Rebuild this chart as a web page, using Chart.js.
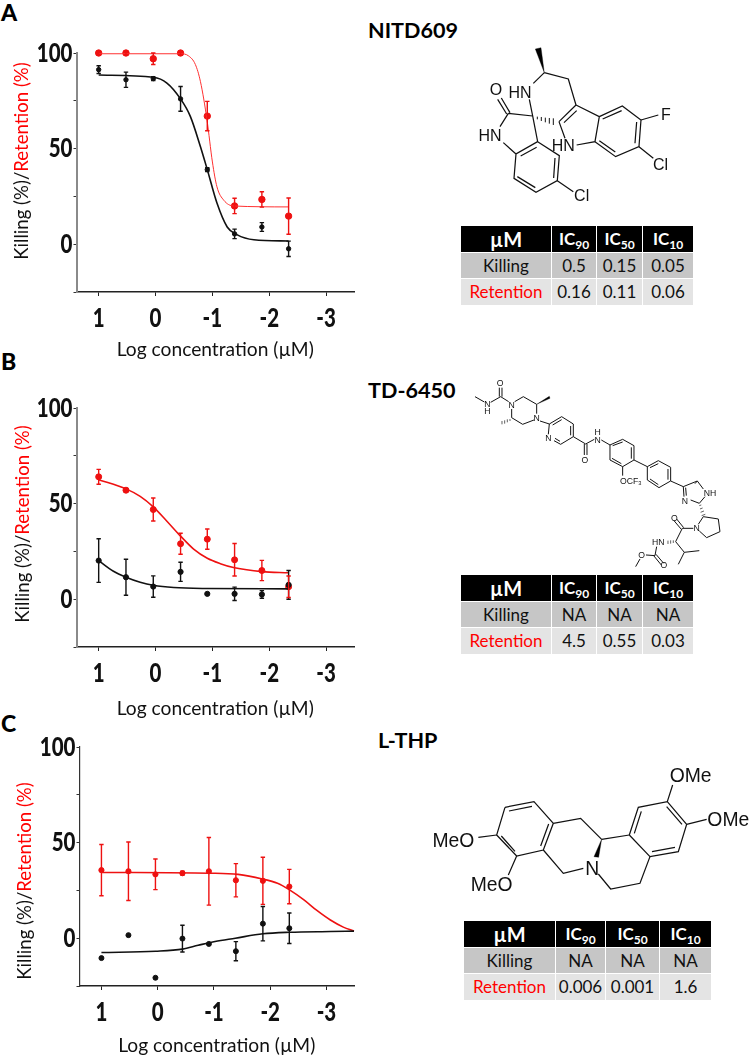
<!DOCTYPE html>
<html>
<head>
<meta charset="utf-8">
<title>NITD609, TD-6450, L-THP</title>
<script src="https://cdn.jsdelivr.net/npm/chart.js@4"></script>
<style>
    html, body { margin: 0; padding: 0; background: #fff; }
    body { position: relative; width: 750px; height: 1055px; overflow: hidden; font-family: Lato, sans-serif; color: #111; }
    canvas { position: absolute; left: 0; }
    .panel { position: absolute; left: 1px; font-weight: 900; font-size: 23px; line-height: 24px; color: #000; }
    .drug { position: absolute; font-weight: 700; font-size: 21.6px; line-height: 22px; color: #000; }
    .ytitle { position: absolute; width: 240px; height: 22px; line-height: 22px; text-align: center; font-size: 18.6px; white-space: nowrap; transform: rotate(-90deg); transform-origin: center center; }
    .ytitle span { color: #f00; }
    table { position: absolute; border-collapse: collapse; table-layout: fixed; font-size: 17px; text-align: center; }
    td, th { padding: 0; border: 1px solid #fff; height: 26.7px; line-height: 20px; overflow: hidden; box-sizing: border-box; }
    th { background: #000; color: #fff; font-weight: 700; }
    th:first-child { font-size: 20px; }
    th sub { font-size: 12px; line-height: 0; }
    tr.killing td { background: #c6c6c6; }
    tr.retention td { background: #e4e4e4; }
    tr.retention td:first-child { color: #f00; }
    svg { position: absolute; left: 0; top: 0; }
    svg path { fill: none; stroke: #111; stroke-width: 3.7; }
    svg path.solid { fill: #000; stroke: #000; stroke-width: 1; }
    svg text { font-family: "Liberation Sans", sans-serif; fill: #111; text-anchor: middle; dominant-baseline: central; }
</style>
</head>
<body>
<div class="panel" style="top:0px">A</div>
<div class="panel" style="top:349px">B</div>
<div class="panel" style="top:711px">C</div>
<div class="drug" style="left:368px;top:19px">NITD609</div>
<div class="drug" style="left:368px;top:379px">TD-6450</div>
<div class="drug" style="left:378px;top:729px">L-THP</div>

<canvas id="chartA"></canvas>
<canvas id="chartB"></canvas>
<canvas id="chartC"></canvas>

<div class="ytitle" style="left:-99px;top:150px">Killing (%)/<span>Retention (%)</span></div>
<div class="ytitle" style="left:-98px;top:513px">Killing (%)/<span>Retention (%)</span></div>
<div class="ytitle" style="left:-96px;top:870px">Killing (%)/<span>Retention (%)</span></div>

<table id="tableA" style="left:460px;top:225px;width:233px"></table>
<table id="tableB" style="left:460px;top:574px;width:233px"></table>
<table id="tableC" style="left:463px;top:920px;width:248px"></table>

<svg width="750" height="1055" viewBox="0 0 750 1055">
    <!-- NITD609 -->
    <g transform="translate(440,10) scale(0.3333)">
        <path class="solid" d="M313 188 L286 117 L303 113 Z"/>
        <path d="M313 188 L280 220 M313 188 L385 207 L408 285 M268 268 L278 318 M278 318 L205 310 M200 312 L173 268 M210 308 L184 264 M205 310 L180 350 M190 398 L228 432 M278 318 L293 395 L228 432 L222 505 L288 547 L352 512 L358 437 L293 395"/>
        <path d="M290 412 L242 438 M232 500 L286 533 M341 504 L345 444 M352 512 L400 545"/>
        <path d="M408 285 L357 335 M410 302 L372 338 M357 335 L375 385 M410 405 L465 395 L478 320 L408 285 M478 320 L547 288 L603 330 L597 410 L527 440 L465 395"/>
        <path d="M488 327 L545 302 M590 336 L585 400 M526 426 L478 392 M603 330 L655 315 M597 410 L640 445"/>
        <path d="M292 320 L292 328 M304 321 L304 333 M316 323 L316 337 M328 324 L328 341 M340 325 L340 345" style="stroke-width:3"/>
        <g font-size="48">
            <text x="168" y="240">O</text><text x="240" y="247">HN</text><text x="150" y="378">HN</text><text x="370" y="408">HN</text>
            <text x="678" y="314">F</text><text x="662" y="463">Cl</text><text x="425" y="557">Cl</text>
        </g>
    </g>
    <!-- TD-6450 -->
    <g transform="translate(440,345) scale(0.3333)">
        <path style="stroke-width:3" d="M105 155 L133 171 M152 172 L182 155 M178 155 L178 128 M186 155 L186 128 M182 155 L206 170 M224 170 L250 155 L290 178 L290 206 M215 192 L215 218 L248 238 L282 225 M300 228 L328 237 L365 215 L400 237 L400 275 L362 298 L342 287 M328 237 L325 268"/>
        <path style="stroke-width:3" d="M338 240 L365 224 M392 243 L392 271 M360 289 L345 280 M400 275 L437 297 M433 297 L433 330 M441 297 L441 330 M437 297 L463 283 M484 285 L510 300 L548 283 L582 302 L582 345 L548 365 L510 345 L510 300 M518 302 L548 291 M574 307 L574 341 M544 356 L516 340 M548 365 L548 392"/>
        <path style="stroke-width:3" d="M582 345 L622 365 L655 347 L692 367 L692 408 L657 428 L622 405 L622 365 M630 368 L655 356 M684 372 L684 404 M655 419 L630 402 M692 408 L730 425 L772 408 L790 432 M730 425 L732 455 M737 428 L739 452 M752 465 L778 475 L795 455 M772 408 L765 416"/>
        <path style="stroke-width:3" d="M790 515 L835 522 L840 560 L800 578 L778 558 M790 515 L775 538 M760 550 L727 550 M724 553 L702 527 M731 548 L710 522 M727 550 L707 590 L733 622 L778 617 M733 622 L715 658 M650 605 L645 632 M641 632 L664 660 M648 628 L671 655 M645 632 L618 630 M600 642 L587 665"/>
        <path class="solid" d="M290 178 L328 154 L330 160 Z"/>
        <path style="stroke-width:2" d="M210 222 L210 228 M202 223 L202 232 M194 226 L194 236 M186 228 L186 238 M778 482 L784 480 M780 492 L788 489 M782 502 L792 498 M785 512 L796 508 M700 586 L700 594 M692 586 L692 596 M684 587 L684 597"/>
        <g font-size="26">
            <text x="180" y="115">O</text><text x="142" y="178">N</text><text x="142" y="198">H</text><text x="215" y="180">N</text><text x="290" y="218">N</text>
            <text x="325" y="280">N</text><text x="435" y="344">O</text><text x="473" y="285">N</text><text x="473" y="260">H</text>
            <text x="572" y="408">OCF<tspan font-size="17" dy="5">3</tspan></text>
            <text x="810" y="445">NH</text><text x="735" y="469">N</text><text x="770" y="550">N</text><text x="703" y="520">O</text>
            <text x="655" y="592">HN</text><text x="672" y="661">O</text><text x="605" y="630">O</text>
        </g>
    </g>
    <!-- L-THP -->
    <g transform="translate(420,730) scale(0.3333)">
        <path d="M255 232 L342 215 L400 280 L370 360 L290 378 L230 315 L255 232 M267 243 L336 229 M386 282 L362 348 M285 364 L244 318"/>
        <path d="M230 315 L175 322 M290 378 L265 435 M400 280 L482 265 L545 328 M370 360 L430 430 L490 415 M545 328 L628 315 M535 432 L572 477 L660 460 L690 380"/>
        <path class="solid" d="M545 328 L522 380 L536 382 Z"/>
        <path d="M628 315 L655 232 L742 215 L800 283 L775 365 L690 380 L628 315 M643 310 L664 244 M740 230 L786 283 M765 352 L696 365 M742 215 L758 165 M800 283 L860 268"/>
        <g font-size="58">
            <text x="100" y="332">MeO</text><text x="215" y="465">MeO</text><text x="517" y="415">N</text>
            <text x="812" y="138">OMe</text><text x="925" y="270">OMe</text>
        </g>
    </g>
</svg>

<script>
const xTicks = [1, 0, -1, -2, -3];
const yTicks = [100, 75, 50, 25, 0, -25];
const yLabels = [100, 50, 0];
const xTitle = "Log concentration (µM)";

const doses = [1, 0.52, 0.04, -0.44, -0.91, -1.39, -1.87, -2.34];

const aRetention = [100, 100, 97, 100, 67, 20, 23.4, 14.7];
const aRetentionErr = [1, 1, 3, 1.2, 7.7, 4, 4, 9.5];
const aKilling = [91.3, 86, 86.6, 76, 39, 5.4, 9, -2.4];
const aKillingErr = [2, 4, 1, 6.5, 1, 2.5, 2.3, 4];
const aRetentionCurveX = [1, 0.04, -0.44, -0.58, -0.7, -0.79, -0.905, -1, -1.08, -1.2, -1.37, -2.34];
const aRetentionCurveY = [99.6, 99.6, 99.6, 98.5, 94, 85, 65, 43, 30, 23, 20, 19.5];
const aKillingCurveX = [1, 0.04, -0.2, -0.44, -0.61, -0.79, -0.91, -1.08, -1.26, -1.43, -1.73, -2.34];
const aKillingCurveY = [88.5, 87.3, 84.3, 76, 67, 51, 39, 21.5, 9, 5, 2.3, 1.7];

const bRetention = [64, 57, 46.9, 29, 31.4, 20.6, 15, 6.5];
const bRetentionErr = [3.9, 1, 6, 5.5, 5.3, 8.5, 5.3, 5.6];
const bKilling = [20.2, 11.5, 6.6, 14.3, 2.8, 2.8, 2.5, 7.5];
const bKillingErr = [11.4, 9.4, 5.6, 5, 0, 3.5, 2, 7.5];
const bRetentionCurveX = [1, 0.52, 0.27, 0.04, -0.2, -0.44, -0.67, -0.91, -1.14, -1.39, -1.87, -2.34];
const bRetentionCurveY = [62.5, 57.7, 53.8, 48.3, 40.8, 33, 26.2, 21.4, 18.6, 16.4, 14.4, 13.8];
const bKillingCurveX = [1, 0.74, 0.52, 0.27, 0.04, -0.32, -0.91, -2.34];
const bKillingCurveY = [20.2, 14.6, 11.5, 8.9, 7.3, 6.1, 5.6, 5.4];

const cRetention = [35.6, 35, 33.4, 34, 35, 30.3, 30, 27];
const cRetentionErr = [13.4, 15.3, 8, 1, 17.7, 8.7, 12.3, 9];
const cKilling = [-10.4, 1.6, -20.7, -0.2, -3, -6.8, 7.6, 5.2];
const cKillingErr = [0, 0, 0, 7, 0, 5, 9, 8];
const cRetentionCurveX = [1, -0.91, -1.43, -1.86, -2.13, -2.33, -2.6, -2.83, -3.07, -3.3, -3.49];
const cRetentionCurveY = [34.4, 34, 33.4, 31, 28.7, 25.5, 20, 14.5, 9.5, 5.8, 3.8];
const cKillingCurveX = [1, 0.04, -0.44, -0.72, -1.02, -1.38, -1.87, -2.34, -3.07, -3.49];
const cKillingCurveY = [-7.5, -6.8, -5.7, -3.7, -1.7, 0, 2.3, 3.1, 3.5, 3.7];

const tableColumns = ["µM", "90", "50", "10"];
const aKillingRow = ["Killing", "0.5", "0.15", "0.05"];
const aRetentionRow = ["Retention", "0.16", "0.11", "0.06"];
const bKillingRow = ["Killing", "NA", "NA", "NA"];
const bRetentionRow = ["Retention", "4.5", "0.55", "0.03"];
const cKillingRow = ["Killing", "NA", "NA", "NA"];
const cRetentionRow = ["Retention", "0.006", "0.001", "1.6"];

function toPoints(xs, ys) {
    return xs.map((x, i) => ({ x: x, y: ys[i] }));
}

// draws the bars from the err value stored on each dataset
const errorBars = {
    id: "errorBars",
    afterDatasetsDraw(chart) {
        const { ctx, scales } = chart;
        chart.data.datasets.forEach((ds) => {
            if (!ds.err) return;
            ctx.save();
            ctx.strokeStyle = ds.backgroundColor;
            ctx.lineWidth = ds.errWidth;
            ds.data.forEach((p, i) => {
                if (!ds.err[i]) return;
                const x = scales.x.getPixelForValue(p.x);
                const top = scales.y.getPixelForValue(p.y + ds.err[i]);
                const bottom = scales.y.getPixelForValue(p.y - ds.err[i]);
                ctx.beginPath();
                ctx.moveTo(x, top);
                ctx.lineTo(x, bottom);
                ctx.moveTo(x - 2.2, top);
                ctx.lineTo(x + 2.2, top);
                ctx.moveTo(x - 2.2, bottom);
                ctx.lineTo(x + 2.2, bottom);
                ctx.stroke();
            });
            ctx.restore();
        });
    }
};

// the tick numbers in the figure are bold and squeezed, no installed font does that
const squeezedTicks = {
    id: "squeezedTicks",
    afterDraw(chart) {
        const { ctx, scales } = chart;
        const squeeze = 0.76;
        ctx.save();
        ctx.font = "900 27px Lato";
        ctx.fillStyle = "#111";
        ctx.textBaseline = "middle";
        ctx.textAlign = "center";
        xTicks.forEach((v) => {
            const x = scales.x.getPixelForValue(v);
            ctx.setTransform(squeeze, 0, 0, 1, x, scales.x.top + 26);
            ctx.fillText(String(v), 0, 0);
        });
        ctx.textAlign = "right";
        yLabels.forEach((v) => {
            const y = scales.y.getPixelForValue(v);
            ctx.setTransform(squeeze, 0, 0, 1, scales.y.right - 4, y);
            ctx.fillText(String(v), 0, 0);
        });
        ctx.restore();
    }
};

function curve(xs, ys, color, width) {
    return {
        data: toPoints(xs, ys),
        showLine: true,
        borderColor: color,
        borderWidth: width,
        pointRadius: 0,
        cubicInterpolationMode: "monotone",
        clip: false
    };
}

function dots(ys, err, color, radius) {
    return {
        data: toPoints(doses, ys),
        err: err,
        errWidth: 1.4,
        backgroundColor: color,
        borderColor: color,
        pointRadius: radius,
        clip: false
    };
}

function drawChart(id, top, left, axisColor, axisWidth, titleGap, datasets) {
    const canvas = document.getElementById(id);
    canvas.width = 370;
    canvas.height = 345;
    canvas.style.top = top + "px";
    canvas.style.width = "370px";
    canvas.style.height = "345px";
    new Chart(canvas, {
        type: "scatter",
        data: { datasets: datasets },
        plugins: [errorBars, squeezedTicks],
        options: {
            responsive: false,
            animation: false,
            devicePixelRatio: 1,
            layout: { padding: { top: 23, right: 16, left: 0, bottom: 0 } },
            plugins: { legend: { display: false }, tooltip: { enabled: false } },
            scales: {
                x: {
                    type: "linear",
                    reverse: true,
                    min: -3.49,
                    max: 1.39,
                    afterBuildTicks: (scale) => { scale.ticks = xTicks.map((v) => ({ value: v })); },
                    afterFit: (scale) => { scale.height = 83; },
                    grid: { drawOnChartArea: false, tickLength: 4, tickColor: "#222" },
                    border: { color: "#222", width: 1.4 },
                    ticks: { display: false },
                    title: { display: true, text: xTitle, color: "#111", font: { family: "Lato", size: 19.2 }, padding: { top: 0, bottom: titleGap } }
                },
                y: {
                    type: "linear",
                    min: -25,
                    max: 100,
                    afterBuildTicks: (scale) => { scale.ticks = yTicks.map((v) => ({ value: v })); },
                    afterFit: (scale) => { scale.width = left; },
                    grid: { drawOnChartArea: false, tickLength: 3, tickColor: "#333" },
                    border: { color: axisColor, width: axisWidth },
                    ticks: { display: false }
                }
            }
        }
    });
}

function fillTable(id, killing, retention) {
    const widths = id === "tableC" ? [92, 50, 54, 52] : [91, 45, 46, 51];
    const head = tableColumns.map((c, i) => `<th style="width:${widths[i]}px">${i === 0 ? c : `IC<sub>${c}</sub>`}</th>`).join("");
    const row = (cells, cls) => `<tr class="${cls}">${cells.map((c) => `<td>${c}</td>`).join("")}</tr>`;
    document.getElementById(id).innerHTML = `<tr>${head}</tr>` + row(killing, "killing") + row(retention, "retention");
}

drawChart("chartA", 30, 76.5, "#8a8a8a", 2, 14, [
    curve(aKillingCurveX, aKillingCurveY, "#111", 1.6),
    curve(aRetentionCurveX, aRetentionCurveY, "#ff3030", 1),
    dots(aKilling, aKillingErr, "#111", 2.2),
    dots(aRetention, aRetentionErr, "#ee1111", 3.2)
]);
drawChart("chartB", 385.3, 76.5, "#8a8a8a", 2, 10, [
    curve(bKillingCurveX, bKillingCurveY, "#111", 1.6),
    curve(bRetentionCurveX, bRetentionCurveY, "#ee1111", 1.6),
    dots(bKilling, bKillingErr, "#111", 2.6),
    dots(bRetention, bRetentionErr, "#ee1111", 3)
]);
drawChart("chartC", 724.3, 79.5, "#333", 1.2, 12, [
    curve(cKillingCurveX, cKillingCurveY, "#111", 1.6),
    curve(cRetentionCurveX, cRetentionCurveY, "#ee1111", 1.6),
    dots(cKilling, cKillingErr, "#111", 2.5),
    dots(cRetention, cRetentionErr, "#ee1111", 2.6)
]);

fillTable("tableA", aKillingRow, aRetentionRow);
fillTable("tableB", bKillingRow, bRetentionRow);
fillTable("tableC", cKillingRow, cRetentionRow);
</script>
</body>
</html>
